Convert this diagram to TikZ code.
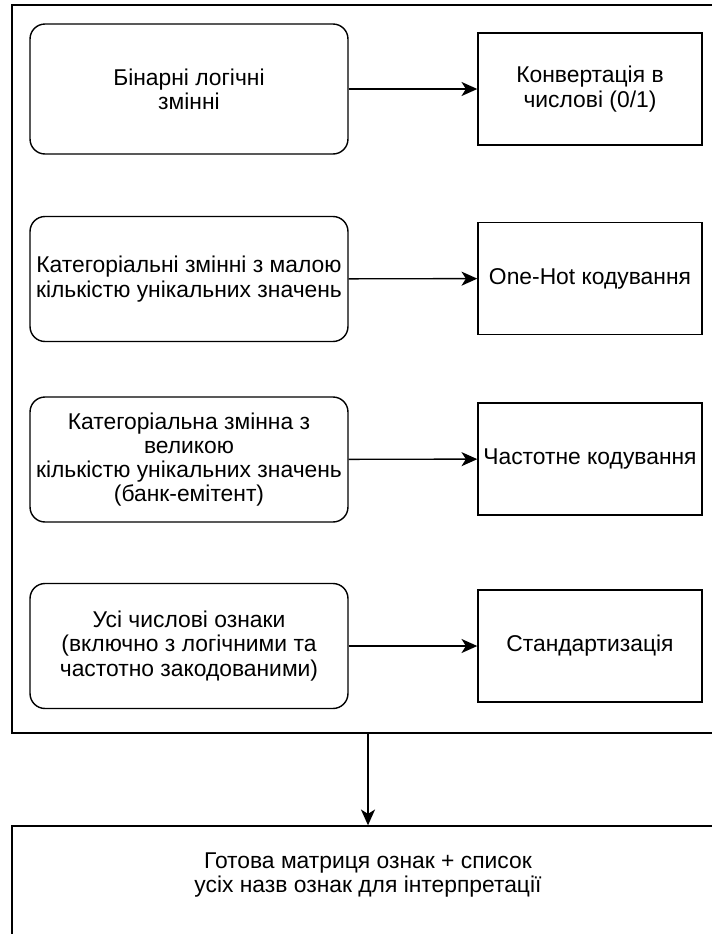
\documentclass[tikz,border=0pt]{standalone}
\usepackage{fontspec}
\setmainfont{Liberation Sans}
\usetikzlibrary{calc,arrows.meta}

\begin{document}
\begin{tikzpicture}[x=0.02cm,y=-0.02cm,line width=0.8pt,
  >={Stealth[length=9pt,width=8pt,inset=2.5pt]},
  txt/.style={font=\fontsize{13}{13.8}\selectfont,align=center},
  src/.style={txt,draw,rounded corners=8.5pt,minimum width=6.36cm,minimum height=2.5cm,inner sep=1pt},
  op/.style={txt,draw,minimum width=4.48cm,minimum height=2.24cm,inner sep=1pt}]
  \useasboundingbox (0,0) rectangle (712,934);
  \clip (0,0) rectangle (712,934);
  \node[draw,minimum width=14.24cm,minimum height=14.56cm] (frame) at (368,369) {};
  \node[src,minimum height=2.6cm] (bin) at (189,89) {Бінарні логічні\\змінні};
  \node[src] (catlow) at (189,279) {Категоріальні змінні з малою\\кількістю унікальних значень};
  \node[src] (cathigh) at (189,459.5) {Категоріальна змінна з\\великою\\кількістю унікальних значень\\(банк-емітент)};
  \node[src] (num) at (189,646) {Усі числові ознаки\\(включно з логічними та\\частотно закодованими)};
  \node[op] (conv) at (590,89) {Конвертація в\\числові (0/1)};
  \node[op] (onehot) at (590,278.5) {One-Hot кодування};
  \node[op] (freq) at (590,459) {Частотне кодування};
  \node[op] (std) at (590,646) {Стандартизація};
  \draw[->] (bin) -- (conv);
  \draw[->] (catlow) -- (onehot);
  \draw[->] (cathigh) -- (freq);
  \draw[->] (num) -- (std);
  \node[draw,minimum width=14.24cm,minimum height=2.68cm] (result) at (368,893) {};
  \node[txt] (resulttext) at ($(result.north)+(0,50)$) {Готова матриця ознак + список\\усіх назв ознак для інтерпретації};
  \draw[->] (frame.south) -- (result.north);
\end{tikzpicture}
\end{document}
